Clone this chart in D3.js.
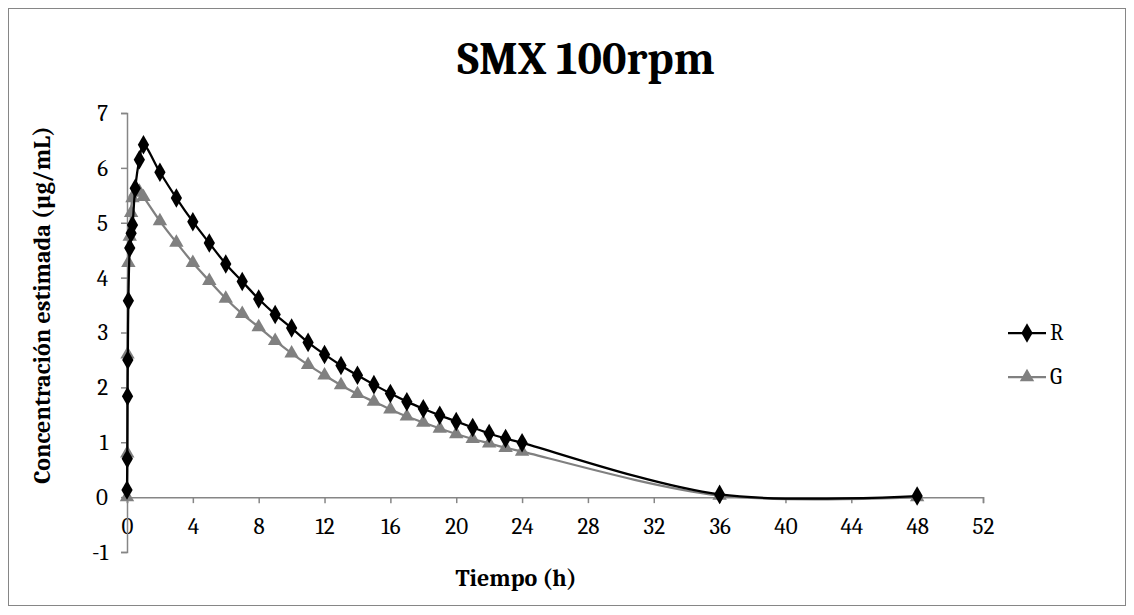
<!DOCTYPE html>
<html>
<head>
<meta charset="utf-8">
<script src="https://d3js.org/d3.v7.min.js"></script>
<style>
  body { margin: 0; background: #fff; }
  text { font-family: Cambria, "DejaVu Serif", "Liberation Serif", serif; }
</style>
</head>
<body>
<div id="chart"></div>
<script>
// sampling times (h) and estimated concentration (ug/mL)
var timesR = [0, 0.017, 0.033, 0.05, 0.083, 0.167, 0.25, 0.333, 0.5, 0.75, 1,
  2, 3, 4, 5, 6, 7, 8, 9, 10, 11, 12, 13, 14, 15, 16, 17, 18, 19, 20, 21, 22, 23, 24, 36, 48];
var valuesR = [0.13, 0.70, 1.84, 2.50, 3.58, 4.54, 4.81, 4.96, 5.63, 6.15, 6.42,
  5.92, 5.45, 5.02, 4.63, 4.25, 3.93, 3.61, 3.33, 3.08, 2.82, 2.60, 2.40, 2.22, 2.05,
  1.89, 1.74, 1.61, 1.49, 1.38, 1.27, 1.16, 1.07, 0.99, 0.05, 0.02];

var timesG = [0, 0.017, 0.033, 0.083, 0.167, 0.25, 0.333, 0.5, 0.75, 1,
  2, 3, 4, 5, 6, 7, 8, 9, 10, 11, 12, 13, 14, 15, 16, 17, 18, 19, 20, 21, 22, 23, 24, 36, 48];
var valuesG = [0, 0.80, 2.60, 4.27, 4.75, 5.18, 5.45, 5.55, 5.57, 5.47,
  5.03, 4.64, 4.27, 3.94, 3.62, 3.34, 3.10, 2.85, 2.62, 2.41, 2.22, 2.04, 1.88, 1.74,
  1.60, 1.47, 1.36, 1.25, 1.15, 1.06, 0.98, 0.90, 0.83, 0.03, 0.00];

var xTicks = [0, 4, 8, 12, 16, 20, 24, 28, 32, 36, 40, 44, 48, 52];
var yTicks = [-1, 0, 1, 2, 3, 4, 5, 6, 7];
var seriesNames = ["R", "G"];

var W = 1134, H = 615;
var axisColor = "#868686";

var svg = d3.select("#chart").append("svg")
  .attr("width", W).attr("height", H);

// outer chart border
svg.append("rect")
  .attr("x", 8.5).attr("y", 8.5)
  .attr("width", 1117).attr("height", 597)
  .attr("fill", "#fff").attr("stroke", "#868686").attr("stroke-width", 1);

var x = d3.scaleLinear().domain([0, 52]).range([127, 983]);
var y = d3.scaleLinear().domain([-1, 7]).range([552, 113]);

// title
svg.append("text")
  .attr("x", 586).attr("y", 74)
  .attr("text-anchor", "middle")
  .style("font-size", "46px").style("font-weight", "bold")
  .text("SMX 100rpm");

// x axis sits at y = 0
var gx = svg.append("g")
  .attr("transform", "translate(0," + y(0) + ")")
  .call(d3.axisBottom(x).tickValues(xTicks).tickSize(6).tickPadding(15).tickFormat(function (d) { return String(d); }));
gx.select(".domain").attr("stroke", axisColor).attr("stroke-width", 1.5);
gx.selectAll(".tick line").attr("stroke", axisColor).attr("stroke-width", 1.5);
gx.selectAll(".tick text").style("font-size", "23px").attr("fill", "#000");

// y axis sits at x = 0
var gy = svg.append("g")
  .attr("transform", "translate(" + x(0) + ",0)")
  .call(d3.axisLeft(y).tickValues(yTicks).tickSize(6).tickPadding(13).tickFormat(function (d) { return String(d); }));
gy.select(".domain").attr("stroke", axisColor).attr("stroke-width", 1.5);
gy.selectAll(".tick line").attr("stroke", axisColor).attr("stroke-width", 1.5);
gy.selectAll(".tick text").style("font-size", "23px").attr("fill", "#000");

// axis titles
svg.append("text")
  .attr("x", 516).attr("y", 586)
  .attr("text-anchor", "middle")
  .style("font-size", "24px").style("font-weight", "bold")
  .text("Tiempo (h)");

svg.append("text")
  .attr("transform", "translate(50,305) rotate(-90)")
  .attr("text-anchor", "middle")
  .style("font-size", "24px").style("font-weight", "bold")
  .text("Concentración estimada (µg/mL)");

var series = [
  { name: "R", color: "#000000", pts: timesR.map(function (t, i) { return [t, valuesR[i]]; }), symbol: d3.symbolDiamond, size: 110 },
  { name: "G", color: "#808080", pts: timesG.map(function (t, i) { return [t, valuesG[i]]; }), symbol: d3.symbolTriangle, size: 90 }
];

var line = d3.line()
  .x(function (d) { return x(d[0]); })
  .y(function (d) { return y(d[1]); })
  .curve(d3.curveCatmullRom.alpha(0.5));

// draw G first so R sits on top
series.slice().reverse().forEach(function (s) {
  svg.append("path")
    .datum(s.pts)
    .attr("d", line)
    .attr("fill", "none")
    .attr("stroke", s.color)
    .attr("stroke-width", 2.25);

  svg.selectAll(null)
    .data(s.pts)
    .enter()
    .append("path")
    .attr("d", d3.symbol().type(s.symbol).size(s.size))
    .attr("transform", function (d) { return "translate(" + x(d[0]) + "," + y(d[1]) + ")"; })
    .attr("fill", s.color);
});

// legend
var legend = svg.append("g").attr("transform", "translate(1008,0)");
series.forEach(function (s, i) {
  var ly = 333 + i * 44;
  legend.append("line")
    .attr("x1", 0).attr("x2", 38).attr("y1", ly).attr("y2", ly)
    .attr("stroke", s.color).attr("stroke-width", 2.25);
  legend.append("path")
    .attr("d", d3.symbol().type(s.symbol).size(s.size))
    .attr("transform", "translate(19," + ly + ")")
    .attr("fill", s.color);
  legend.append("text")
    .attr("x", 42).attr("y", ly + 7)
    .style("font-size", "22px")
    .text(s.name);
});
</script>
</body>
</html>
